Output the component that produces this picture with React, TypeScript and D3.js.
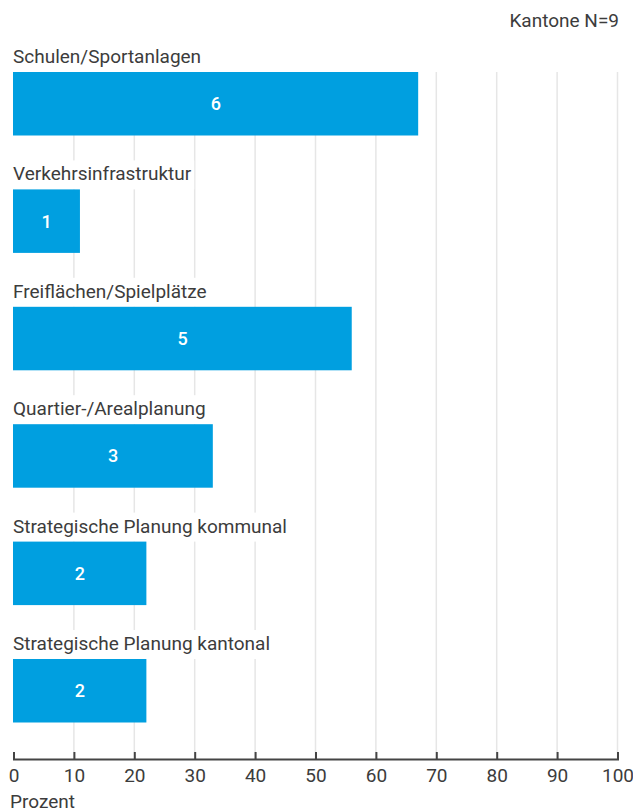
import React, { useEffect, useRef } from "react";
import * as d3 from "d3";

const categories = [
  "Schulen/Sportanlagen",
  "Verkehrsinfrastruktur",
  "Freiflächen/Spielplätze",
  "Quartier-/Arealplanung",
  "Strategische Planung kommunal",
  "Strategische Planung kantonal",
];
const counts = [6, 1, 5, 3, 2, 2];
const percents = [67, 11, 56, 33, 22, 22];
const xTicks = [0, 10, 20, 30, 40, 50, 60, 70, 80, 90, 100];
const axisTitle = "Prozent";
const sampleNote = "Kantone N=9";

const W = 633;
const H = 812;
const FONT = "Roboto, 'Liberation Sans', Arial, sans-serif";
const TEXT = "#3c3c3c";
const BAR = "#009fe0";
const FS = 19;

export default function App() {
  const ref = useRef<SVGSVGElement>(null);

  useEffect(() => {
    const svg = d3.select(ref.current);
    svg.selectAll("*").remove();

    const x = d3.scaleLinear().domain([0, 100]).range([13.5, 617.5]);
    const y = d3.scaleBand<string>().domain(categories).range([41, 41 + 6 * 117.4]).paddingInner(0);
    const labelH = 31;
    const barH = 63.5;
    const axisY = 759;
    const gridTop = (y(categories[0]) as number) + labelH;

    svg.append("g")
      .selectAll("line")
      .data(xTicks.filter((t) => t > 0))
      .join("line")
      .attr("x1", (d) => x(d))
      .attr("x2", (d) => x(d))
      .attr("y1", gridTop)
      .attr("y2", axisY)
      .attr("stroke", "#e6e6e6")
      .attr("stroke-width", 1.5);

    const rows = svg.append("g")
      .selectAll("g")
      .data(categories.map((c, i) => ({ c, v: percents[i], n: counts[i] })))
      .join("g")
      .attr("transform", (d) => `translate(0,${y(d.c)})`);

    const bg = rows.append("rect").attr("fill", "#fff");
    const lbl = rows.append("text")
      .attr("x", 13)
      .attr("y", labelH - 9)
      .attr("font-family", FONT)
      .attr("font-size", FS)
      .attr("fill", TEXT)
      .text((d) => d.c);
    lbl.each(function (_, i) {
      const w = (this as SVGTextElement).getComputedTextLength();
      d3.select(bg.nodes()[i])
        .attr("x", 12)
        .attr("y", 2)
        .attr("width", w + 4)
        .attr("height", labelH - 2);
    });

    rows.append("rect")
      .attr("x", x(0) - 0.5)
      .attr("y", labelH)
      .attr("width", (d) => x(d.v) - x(0) + 0.5)
      .attr("height", barH)
      .attr("fill", BAR);

    rows.append("text")
      .attr("x", (d) => (x(0) + x(d.v)) / 2)
      .attr("y", labelH + barH / 2)
      .attr("dy", "0.36em")
      .attr("text-anchor", "middle")
      .attr("font-family", FONT)
      .attr("font-size", 18)
      .attr("font-weight", 500)
      .attr("fill", "#fff")
      .text((d) => d.n);

    const axis = svg.append("g")
      .attr("transform", `translate(0,${axisY})`)
      .call(d3.axisBottom(x).tickValues(xTicks).tickSize(-7).tickPadding(10).tickFormat(d3.format("d")));
    axis.select(".domain").attr("stroke", "#444").attr("stroke-width", 2);
    axis.selectAll(".tick line").attr("stroke", "#444").attr("stroke-width", 2);
    axis.selectAll(".tick text")
      .attr("font-family", FONT)
      .attr("font-size", FS)
      .attr("fill", TEXT);

    svg.append("text")
      .attr("x", 10)
      .attr("y", 808)
      .attr("font-family", FONT)
      .attr("font-size", FS)
      .attr("fill", TEXT)
      .text(axisTitle);

    svg.append("text")
      .attr("x", 619)
      .attr("y", 27)
      .attr("text-anchor", "end")
      .attr("font-family", FONT)
      .attr("font-size", FS)
      .attr("fill", TEXT)
      .text(sampleNote);
  }, []);

  return (
    <svg
      ref={ref}
      width={W}
      height={H}
      style={{ position: "absolute", left: 0, top: 0, display: "block", background: "#fff" }}
    />
  );
}
